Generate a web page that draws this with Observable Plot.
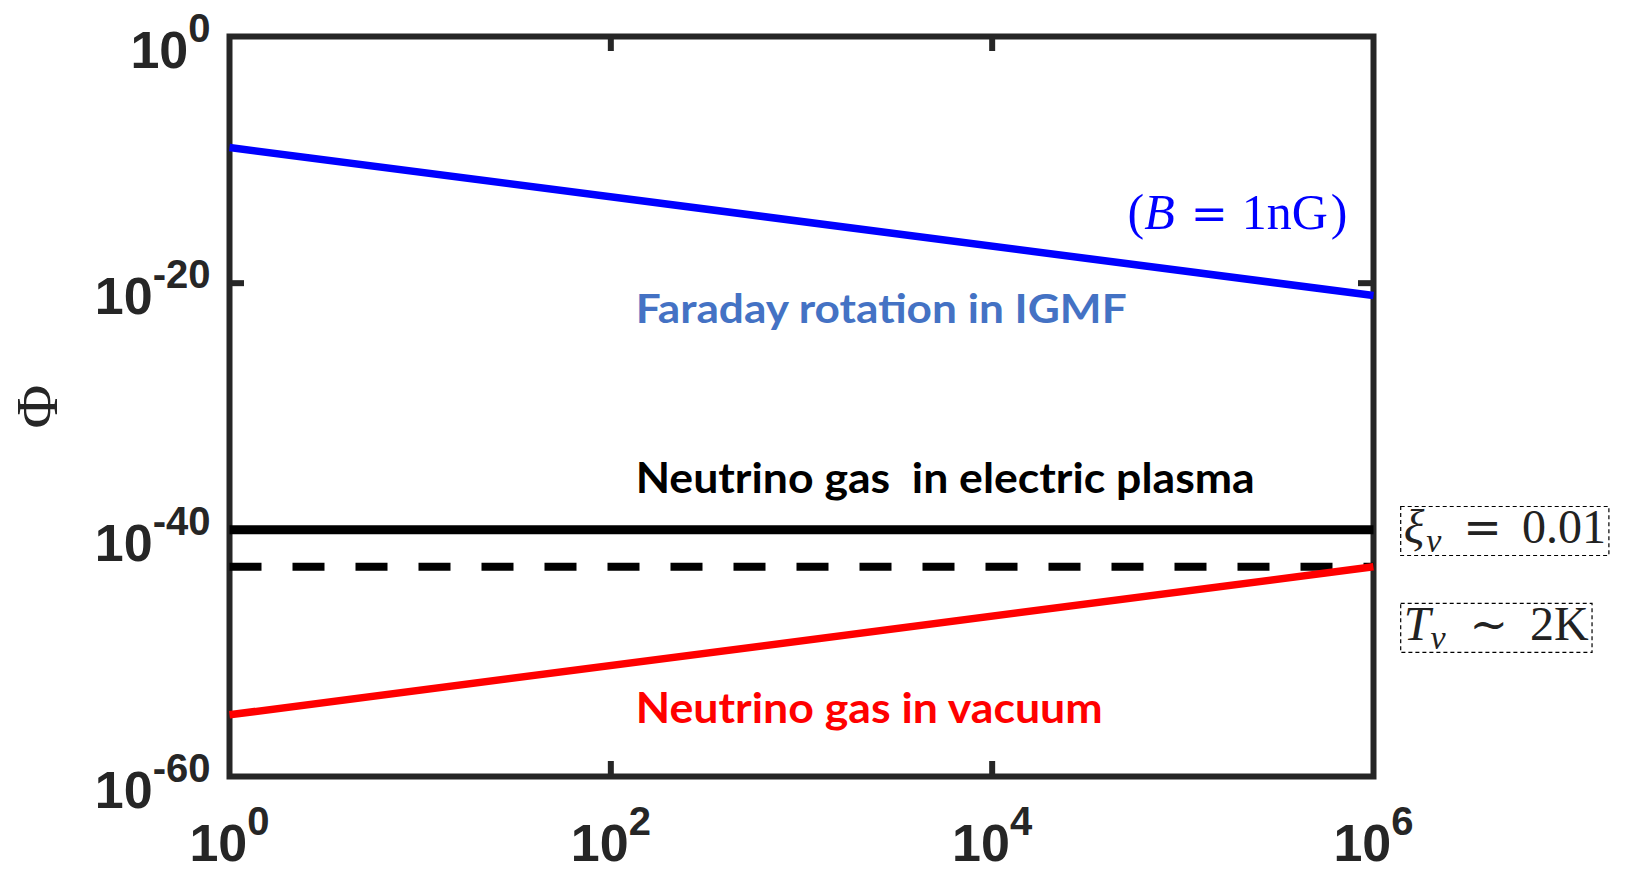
<!DOCTYPE html>
<html><head><meta charset="utf-8">
<script src="https://cdn.jsdelivr.net/npm/d3@7"></script>
<script src="https://cdn.jsdelivr.net/npm/@observablehq/plot@0.6"></script>
<style>
body{margin:0;background:#fff;}
svg text{white-space:pre;}
</style>
</head><body><div id="chart"></div>
<script>
// ---- data ----
const xEnds = [1, 1e6];
const faradayIGMF = [1e-9, 1e-21];
const gasPlasmaXi = [1e-40, 1e-40];
const gasPlasmaT = [1e-43, 1e-43];
const gasVacuum = [1e-55, 1e-43];
const xTicks = [1, 1e2, 1e4, 1e6];
const yTicks = [1, 1e-20, 1e-40, 1e-60];
const xInnerTicks = [1e2, 1e4];
const yInnerTicks = [1e-20, 1e-40];
const yLabel = "Φ";
const labelFaraday = "Faraday rotation in IGMF";
const labelPlasma = "Neutrino gas  in electric plasma";
const labelVacuum = "Neutrino gas in vacuum";
const labelB = "(B = 1nG)";
const labelXi = "ξν = 0.01";
const labelT = "Tν ∼ 2K";

const series = ys => xEnds.map((x, i) => ({x, y: ys[i]}));
const expOf = d => String(Math.round(Math.log10(d)));

// ---- layout ----
const W = 1626, H = 869, mL = 229, mR = 253, mT = 36, mB = 93;
const plotH = H - mT - mB, plotW = W - mL - mR;
const ink = "#262626";
const tickLen = 15;

const plot = Plot.plot({
  width: W, height: H,
  marginLeft: mL, marginRight: mR, marginTop: mT, marginBottom: mB,
  x: {type: "log", domain: [1, 1e6], axis: null},
  y: {type: "log", domain: [1e-60, 1], axis: null},
  style: {background: "#fff", overflow: "visible"},
  marks: [
    Plot.tickX(xInnerTicks, {x: d => d, stroke: ink, strokeWidth: 6, insetTop: plotH - tickLen}),
    Plot.tickX(xInnerTicks, {x: d => d, stroke: ink, strokeWidth: 6, insetBottom: plotH - tickLen}),
    Plot.tickY(yInnerTicks, {y: d => d, stroke: ink, strokeWidth: 6, insetRight: plotW - tickLen}),
    Plot.tickY(yInnerTicks, {y: d => d, stroke: ink, strokeWidth: 6, insetLeft: plotW - tickLen}),
    Plot.frame({stroke: ink, strokeWidth: 6}),
    Plot.line(series(gasPlasmaT), {x: "x", y: "y", stroke: "#000", strokeWidth: 8, strokeDasharray: "32,31", strokeLinecap: "butt"}),
    Plot.line(series(gasPlasmaXi), {x: "x", y: "y", stroke: "#000", strokeWidth: 9, strokeLinecap: "butt"}),
    Plot.line(series(faradayIGMF), {x: "x", y: "y", stroke: "#0000ff", strokeWidth: 7.5, strokeLinecap: "butt"}),
    Plot.line(series(gasVacuum), {x: "x", y: "y", stroke: "#ff0000", strokeWidth: 7.5, strokeLinecap: "butt"}),
    // tick labels
    Plot.text(xTicks, {x: d => d, frameAnchor: "bottom", dy: 84, lineAnchor: "bottom", textAnchor: "middle",
      text: d => "10|" + expOf(d), fontSize: 52, fontWeight: "bold", fill: ink, fontFamily: "Liberation Sans, Arial, sans-serif"}),
    Plot.text(yTicks, {y: d => d, frameAnchor: "left", dx: -19, dy: 31, lineAnchor: "bottom", textAnchor: "end",
      text: d => "10|" + expOf(d), fontSize: 52, fontWeight: "bold", fill: ink, fontFamily: "Liberation Sans, Arial, sans-serif"}),
    // y label
    Plot.text([yLabel], {frameAnchor: "left", dx: -192, rotate: -90, text: d => d, fontSize: 60,
      fontFamily: "Liberation Serif, serif", fill: ink, textAnchor: "middle", lineAnchor: "middle"}),
    // annotations
    Plot.text([labelFaraday], {x: () => 135, y: () => 5.4e-24, text: d => d, textAnchor: "start", lineAnchor: "bottom",
      fontSize: 40, fontWeight: "bold", fontFamily: "Lato, Open Sans, sans-serif", fill: "#4472c4"}),
    Plot.text([labelPlasma], {x: () => 135, y: () => 9e-38, text: d => d, textAnchor: "start", lineAnchor: "bottom",
      fontSize: 42, fontWeight: "bold", fontFamily: "Lato, Open Sans, sans-serif", fill: "#000"}),
    Plot.text([labelVacuum], {x: () => 135, y: () => 2e-56, text: d => d, textAnchor: "start", lineAnchor: "bottom",
      fontSize: 42, fontWeight: "bold", fontFamily: "Lato, Open Sans, sans-serif", fill: "#ff0000"}),
    Plot.text([labelB], {x: () => 7.3e5, y: () => 2.7e-16, text: d => d, textAnchor: "end", lineAnchor: "bottom",
      fontSize: 50, fontFamily: "Liberation Serif, serif", fill: "#0000ff"}),
    Plot.text([labelXi], {x: () => 1.44e6, y: () => 7.8e-42, text: d => d, textAnchor: "start", lineAnchor: "bottom",
      fontSize: 48, fontFamily: "Liberation Serif, serif", fill: "#222"}),
    Plot.text([labelT], {x: () => 1.44e6, y: () => 1.07e-49, text: d => d, textAnchor: "start", lineAnchor: "bottom",
      fontSize: 48, fontFamily: "Liberation Serif, serif", fill: "#222"})
  ]
});
document.getElementById("chart").appendChild(plot);

const svg = d3.select(plot);
const allText = svg.selectAll("text");
const byContent = s => allText.filter(function () { return this.textContent === s; });

// superscript tick labels
allText.filter(function () { return this.textContent.includes("|"); }).each(function () {
  const [b, e] = this.textContent.split("|");
  const isX = this.getAttribute("text-anchor") === "middle" || !this.getAttribute("text-anchor");
  this.textContent = "";
  const t = d3.select(this);
  t.append("tspan").text(b);
  t.append("tspan").attr("dy", isX ? -26 : -28).attr("font-size", 40).text(e);
});

// fit annotation widths
[[labelFaraday, 491], [labelPlasma, 619], [labelVacuum, 467]].forEach(([s, w]) => {
  byContent(s).attr("textLength", w).attr("lengthAdjust", "spacingAndGlyphs");
});

// math-styled annotations
function rich(sel, parts) {
  sel.each(function () {
    this.textContent = "";
    const t = d3.select(this);
    for (const p of parts) {
      const s = t.append("tspan").text(p.t);
      if (p.italic) s.attr("font-style", "italic");
      if (p.size) s.attr("font-size", p.size);
      if (p.dx) s.attr("dx", p.dx);
      if (p.dy) s.attr("dy", p.dy);
      if (p.family) s.attr("font-family", p.family);
    }
  });
}
const wide = "DejaVu Serif, serif";
const selB = byContent(labelB), selXi = byContent(labelXi), selT = byContent(labelT);
rich(selB, [
  {t: "("}, {t: "B", italic: true},
  {t: "=", dx: 16, family: wide, size: 44},
  {t: "1nG", dx: 14}, {t: ")", dx: 3}
]);
rich(selXi, [
  {t: "ξ", italic: true},
  {t: "ν", italic: true, size: 34, dy: 9, dx: 2},
  {t: "=", dy: -9, dx: 22, family: wide, size: 46},
  {t: "0.01", dx: 20}
]);
rich(selT, [
  {t: "T", italic: true},
  {t: "ν", italic: true, size: 34, dy: 9, dx: 0},
  {t: "∼", dy: -9, dx: 24, family: wide, size: 46},
  {t: "2K", dx: 22}
]);

// dashed boxes around the math labels
[selXi, selT].forEach(sel => sel.each(function () {
  const bb = this.getBBox();
  d3.select(this.parentNode).insert("rect", "text")
    .attr("transform", this.getAttribute("transform"))
    .attr("x", bb.x - 3).attr("y", bb.y + 6)
    .attr("width", bb.width + 6).attr("height", bb.height - 10)
    .attr("fill", "none").attr("stroke", "#000").attr("stroke-width", 1.2)
    .attr("stroke-dasharray", "4,3");
}));
</script>
</body></html>
